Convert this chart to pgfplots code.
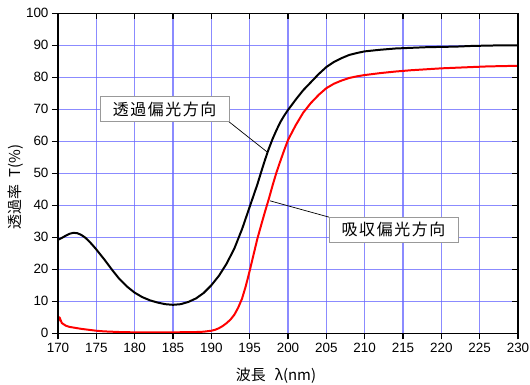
\documentclass[border=0pt]{standalone}
\usepackage{fontspec}
\setmainfont{Noto Sans CJK JP}
\newfontfamily\tickfont{Liberation Sans}
\usepackage{pgfplots}
\pgfplotsset{compat=1.18}
\definecolor{gridblue}{RGB}{100,100,255}
\begin{document}
\begin{tikzpicture}
\useasboundingbox (-58bp,-51.7bp) rectangle (472bp,333.3bp);
\begin{axis}[at={(0,0)}, anchor=south west,
 scale only axis, width=460bp, height=320bp,
 xmin=170, xmax=230, ymin=0, ymax=100,
 xtick={170,175,...,230}, ytick={0,10,...,100},
 xtick pos=left, ytick pos=left,
 tick align=outside, major tick length=6bp,
 grid=major, major grid style={gridblue, line width=1.1pt, opacity=0.75},
 tick style={black, line width=1.1pt},
 axis line style={line width=1.1pt},
 ticklabel style={font=\tickfont\fontsize{13.5}{15}\selectfont},
 /pgf/number format/assume math mode=true,
 xlabel={波長\hspace{0.6em}λ(nm)}, ylabel={透過率\hspace{0.5em}T(\%)},
 xlabel style={at={(axis description cs:0.474,-0.133)}, anchor=center, font=\fontsize{15}{18}\selectfont},
 ylabel style={at={(axis description cs:-0.091,0.457)}, anchor=center, font=\fontsize{15}{18}\selectfont},
]
\addplot[black, line width=2pt, line join=round] coordinates {
(170,29.2)(170.5,29.8)(171,30.5)(171.5,31.1)(172,31.4)(172.5,31.3)(173,30.8)(173.5,30.0)(174,28.9)(174.5,27.6)(175,26.2)(176,23.2)(177,20.0)(178,17.0)(179,14.6)(180,12.7)(181,11.3)(182,10.3)(183,9.6)(184,9.1)(185,8.9)(186,9.1)(187,9.8)(188,10.9)(189,12.6)(190,15.0)(191,18.0)(192,21.8)(193,26.5)(194,32.5)(194.5,36.0)(195,39.5)(195.5,43.0)(196,46.5)(196.5,50.4)(197,54.2)(197.5,57.7)(198,60.8)(198.5,63.5)(199,66.0)(199.5,68.0)(200,69.8)(201,73.0)(202,76.0)(203,78.5)(204,81.0)(205,83.2)(206,84.8)(207,86.0)(208,87.0)(209,87.6)(210,88.1)(212,88.6)(214,89.0)(216,89.2)(218,89.4)(220,89.5)(222,89.6)(224,89.8)(226,89.9)(228,90.0)(230,90.0)
};
\addplot[red, line width=2pt, line join=round] coordinates {
(170,3.5)(170.2,5.0)(170.5,3.2)(171,2.4)(171.5,2.0)(172,1.8)(173,1.4)(174,1.1)(175,0.8)(176,0.6)(177,0.5)(178,0.4)(180,0.3)(182,0.3)(185,0.3)(188,0.4)(189,0.5)(190,0.8)(190.5,1.1)(191,1.6)(191.5,2.3)(192,3.2)(192.5,4.3)(193,5.8)(193.5,8.0)(194,10.8)(194.5,14.8)(195,19.5)(195.5,24.5)(196,29.5)(196.5,33.8)(197,38.0)(197.5,42.0)(198,46.3)(198.5,50.3)(199,53.8)(199.5,57.2)(200,60.4)(201,65.0)(202,69.0)(203,72.0)(204,74.5)(205,76.6)(206,78.0)(207,79.0)(208,79.8)(209,80.3)(210,80.7)(212,81.3)(214,81.8)(216,82.2)(218,82.5)(220,82.8)(222,83.0)(224,83.2)(226,83.4)(228,83.5)(230,83.6)
};
\draw[black, line width=0.7pt] (axis cs:192.2,66.3) -- (axis cs:197.26,56.7);
\draw[black, line width=0.7pt] (axis cs:205.35,36.3) -- (axis cs:197.65,41.4);
\node[draw=gray!80, line width=0.8pt, fill=white, minimum width=129bp, minimum height=25bp, inner sep=0pt, font=\fontsize{16}{18}\selectfont\addfontfeature{LetterSpace=10}] at (axis cs:183.9,70.1) {透過偏光方向};
\node[draw=gray!80, line width=0.8pt, fill=white, minimum width=129bp, minimum height=25bp, inner sep=0pt, font=\fontsize{16}{18}\selectfont\addfontfeature{LetterSpace=10}] at (axis cs:213.76,32.4) {吸収偏光方向};
\end{axis}
\begin{axis}[at={(0,0)}, anchor=south west,
 scale only axis, width=460bp, height=320bp,
 xmin=170, xmax=230, ymin=0, ymax=100,
 xtick={170,175,...,230}, ytick={0,10,...,100},
 xtick pos=right, ytick pos=right,
 tick align=inside, major tick length=6bp,
 xticklabels={}, yticklabels={},
 tick style={black, line width=1.1pt},
 axis line style={line width=1.1pt},
]
\end{axis}
\end{tikzpicture}
\end{document}
